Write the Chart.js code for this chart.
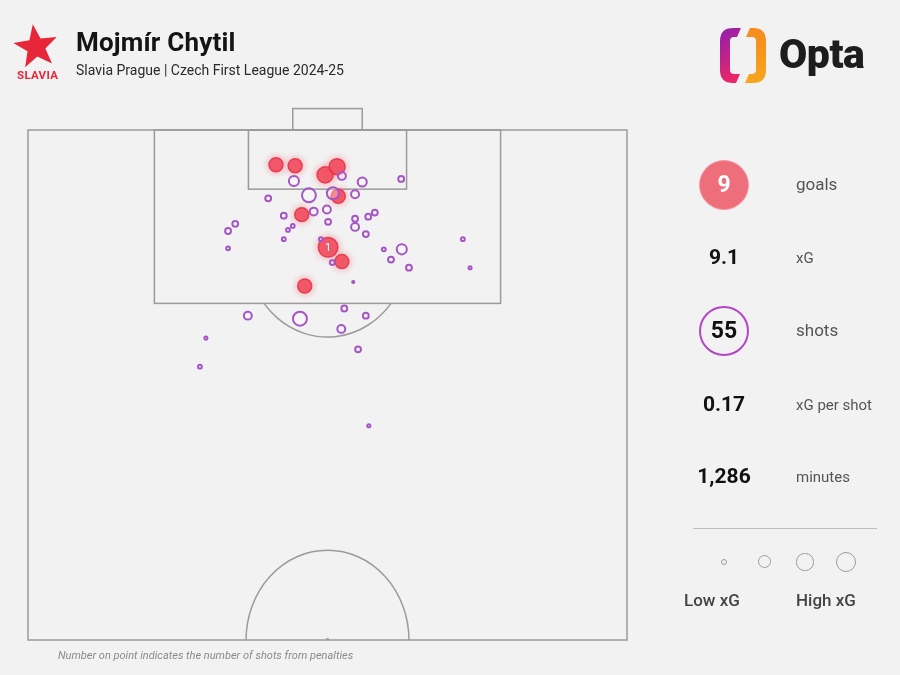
<!DOCTYPE html>
<html><head><meta charset="utf-8">
<script src="https://cdn.jsdelivr.net/npm/chart.js@4/dist/chart.umd.min.js"></script>
<style>
html,body{margin:0;padding:0;background:#f2f2f2;}
#wrap{position:relative;width:900px;height:675px;overflow:hidden;background:#f2f2f2;font-family:Roboto,"Noto Sans",sans-serif;}
#c{position:absolute;left:0;top:0;}
.t{position:absolute;white-space:nowrap;}
#title{left:76px;top:27px;font-size:26px;font-weight:700;color:#141414;letter-spacing:0.2px;}
#sub{left:76px;top:62px;font-size:14px;color:#2a2a2a;}
#slavia{left:17px;top:68px;font-size:11.5px;font-weight:700;color:#e8263a;letter-spacing:0.3px;}
#opta{left:779px;top:30px;font-size:41px;font-weight:900;color:#1d1d1d;letter-spacing:-0.5px;}
#foot{left:58px;top:649px;font-size:11px;font-style:italic;color:#8a8a8a;}
.val{position:absolute;width:80px;left:684px;text-align:center;font-weight:700;color:#111;}
.lab{position:absolute;left:796px;color:#555;}
#stats .badge{position:absolute;border-radius:50%;box-sizing:border-box;}
#divider{position:absolute;left:693px;top:528px;width:184px;height:1px;background:#bdbdbd;}
.lg{position:absolute;border:1.5px solid #9a9a9a;border-radius:50%;box-sizing:border-box;}
.lgt{position:absolute;top:590px;font-size:17px;font-weight:500;color:#444;}
</style></head>
<body><div id="wrap">
<canvas id="c" width="900" height="675"></canvas>
<svg width="900" height="100" style="position:absolute;left:0;top:0">
  <polygon id="star" fill="#e8263a" points=""></polygon>
  <defs>
    <linearGradient id="gl" x1="0" y1="0" x2="0.3" y2="1"><stop offset="0" stop-color="#8e1fb0"/><stop offset="1" stop-color="#e8266a"/></linearGradient>
    <linearGradient id="gr" x1="0" y1="0" x2="0" y2="1"><stop offset="0" stop-color="#f58b1f"/><stop offset="1" stop-color="#f7a51d"/></linearGradient>
  </defs>
  <path fill="url(#gl)" d="M741,28 L733,28 Q720,28 720,41 L720,70 Q720,83 733,83 L736,83 L740,74 L734,74 Q730,74 730,70 L730,41 Q730,37 734,37 L737,37 Z"/>
  <path fill="url(#gr)" d="M745,83 L753,83 Q766,83 766,70 L766,41 Q766,28 753,28 L750,28 L746,37 L752,37 Q756,37 756,41 L756,70 Q756,74 752,74 L749,74 Z"/>
</svg>
<div class="t" id="title"></div>
<div class="t" id="sub"></div>
<div class="t" id="slavia">SLAVIA</div>
<div class="t" id="opta">Opta</div>
<div id="stats"></div>
<div id="divider"></div>
<div id="legend"></div>
<div class="t" id="foot"></div>
</div>
<script>
// ---- text ----
const playerName = 'Mojmír Chytil';
const subtitle = 'Slavia Prague | Czech First League 2024-25';
const footnote = 'Number on point indicates the number of shots from penalties';

// ---- goals (Opta coords: width 0-100 across, length 50-100 toward goal) ----
const goalWidth  = [41.4, 44.6, 49.6, 51.6, 51.8, 45.7, 50.1, 52.4, 46.2];
const goalLength = [96.6, 96.5, 95.6, 96.4, 93.5, 91.7, 88.5, 87.1, 84.7];
const goalXG     = [0.40, 0.40, 0.53, 0.53, 0.40, 0.40, 0.79, 0.40, 0.40];
const goalPens   = [0, 0, 0, 0, 0, 0, 1, 0, 0];

// ---- non-goal shots ----
const shotWidth  = [44.4, 55.8, 62.3, 40.1, 46.9, 50.9, 54.6, 42.7, 47.7, 49.9, 52.4, 50.1, 54.6, 56.8, 57.9, 54.6, 56.4, 48.9, 59.4, 62.4, 60.6, 50.8, 63.6, 72.6, 73.8, 54.3, 34.6, 33.4, 33.4, 44.2, 43.4, 42.7, 36.7, 45.4, 52.8, 56.4, 52.3, 55.1, 29.7, 28.7, 56.9];
const shotLength = [95.0, 94.9, 95.2, 93.3, 93.6, 93.8, 93.7, 91.6, 92.0, 92.2, 95.5, 91.0, 91.3, 91.5, 91.9, 90.5, 89.8, 89.3, 88.3, 88.3, 87.3, 87.0, 86.5, 89.3, 86.5, 85.1, 90.8, 90.1, 88.4, 90.6, 90.2, 89.3, 81.8, 81.5, 82.5, 81.8, 80.5, 78.5, 79.6, 76.8, 71.0];
const shotXG     = [0.21, 0.17, 0.07, 0.07, 0.40, 0.30, 0.13, 0.07, 0.13, 0.13, 0.13, 0.07, 0.07, 0.07, 0.07, 0.13, 0.07, 0.03, 0.03, 0.21, 0.07, 0.05, 0.07, 0.03, 0.02, 0.01, 0.07, 0.07, 0.03, 0.03, 0.03, 0.03, 0.13, 0.40, 0.07, 0.07, 0.13, 0.07, 0.02, 0.03, 0.02];

// ---- summary stats ----
const statValues = ['9', '9.1', '55', '0.17', '1,286'];
const statLabels = ['goals', 'xG', 'shots', 'xG per shot', 'minutes'];
const legendXG   = [0.10, 0.35, 0.60, 0.83];
const legendLabels = ['Low xG', 'High xG'];

const rOf = xg => 11 * Math.sqrt(xg);

document.getElementById('title').textContent = playerName;
document.getElementById('sub').textContent = subtitle;
document.getElementById('foot').textContent = footnote;

// star logo
(function(){
  const cx=36, cy=47, R=23, r=9.5, rot=-8*Math.PI/180;
  const pts=[];
  for(let i=0;i<10;i++){
    const a = -Math.PI/2 + rot + i*Math.PI/5;
    const rr = i%2===0 ? R : r;
    pts.push((cx+rr*Math.cos(a)).toFixed(1)+','+(cy+rr*Math.sin(a)).toFixed(1));
  }
  document.getElementById('star').setAttribute('points', pts.join(' '));
})();

// stats panel
(function(){
  const st = document.getElementById('stats');
  const ys = [185, 258, 331, 405, 477];
  const vsz = [23, 21, 23, 21, 21];
  const lsz = [17, 15, 17, 15, 15];
  statValues.forEach((v,i)=>{
    if(i===0 || i===2){
      const b=document.createElement('div'); b.className='badge';
      b.style.left=(724-25)+'px'; b.style.top=(ys[i]-25)+'px'; b.style.width='50px'; b.style.height='50px';
      if(i===0){ b.style.background='#ee6e7c'; b.style.border='1.5px solid #f49aa3'; }
      else { b.style.border='2px solid #b444c8'; }
      st.appendChild(b);
    }
    const d=document.createElement('div'); d.className='val'; d.textContent=v;
    d.style.fontSize=vsz[i]+'px'; d.style.top=(ys[i]-vsz[i]*0.6)+'px';
    if(i===0) d.style.color='#fff';
    st.appendChild(d);
    const l=document.createElement('div'); l.className='lab'; l.textContent=statLabels[i];
    l.style.fontSize=lsz[i]+'px'; l.style.top=(ys[i]-lsz[i]*0.62)+'px';
    st.appendChild(l);
  });
  const lg=document.getElementById('legend');
  const lx=[724,765,805,846];
  legendXG.forEach((x,i)=>{
    const r=rOf(x); const e=document.createElement('div'); e.className='lg';
    e.style.left=(lx[i]-r)+'px'; e.style.top=(562-r)+'px'; e.style.width=(2*r)+'px'; e.style.height=(2*r)+'px';
    lg.appendChild(e);
  });
  const t1=document.createElement('div'); t1.className='lgt'; t1.textContent=legendLabels[0]; t1.style.left='684px'; lg.appendChild(t1);
  const t2=document.createElement('div'); t2.className='lgt'; t2.textContent=legendLabels[1]; t2.style.left='796px'; lg.appendChild(t2);
})();

// pitch plugin
const pitchPlugin = {
  id:'pitch',
  beforeDatasetsDraw(chart){
    const {ctx, scales:{x,y}} = chart;
    const X=v=>x.getPixelForValue(v), Y=v=>y.getPixelForValue(v);
    ctx.save();
    ctx.strokeStyle='#9b9b9b'; ctx.lineWidth=1.5;
    const rect=(w0,w1,l0,l1)=>{ctx.strokeRect(X(w0),Y(l1),X(w1)-X(w0),Y(l0)-Y(l1));};
    rect(0,100,50,100);
    rect(21.1,78.9,83,100);
    rect(36.8,63.2,94.2,100);
    rect(44.2,55.8,100,102.1);
    const rx = X(50+13.6)-X(50), ry = Y(50)-Y(50+8.8);
    const cyP = Y(88.5), boxY = Y(83);
    const t = Math.asin((boxY-cyP)/ry);
    ctx.beginPath(); ctx.ellipse(X(50), cyP, rx, ry, 0, t, Math.PI - t); ctx.stroke();
    ctx.beginPath(); ctx.ellipse(X(50), Y(50), rx, ry, 0, Math.PI, 2*Math.PI); ctx.stroke();
    ctx.fillStyle='#9b9b9b';
    ctx.beginPath(); ctx.arc(X(50), Y(50), 2, Math.PI, 2*Math.PI); ctx.fill();
    ctx.restore();
  },
  beforeDatasetDraw(chart,args){
    if(args.index===1){
      chart.ctx.save();
      chart.ctx.shadowColor='rgba(245,70,90,0.55)';
      chart.ctx.shadowBlur=7;
    }
  },
  afterDatasetDraw(chart,args){
    if(args.index===1) chart.ctx.restore();
  },
  afterDatasetsDraw(chart){
    const {ctx} = chart;
    const meta = chart.getDatasetMeta(1);
    ctx.save();
    ctx.fillStyle='#fff'; ctx.font='11px Roboto, sans-serif'; ctx.textAlign='center'; ctx.textBaseline='middle';
    meta.data.forEach((el,i)=>{ if(goalPens[i]>0) ctx.fillText(String(goalPens[i]), el.x, el.y+0.5); });
    ctx.restore();
  }
};

new Chart(document.getElementById('c'), {
  type:'scatter',
  data:{datasets:[
    {label:'Shots', data: shotWidth.map((w,i)=>({x:w,y:shotLength[i]})),
     pointRadius: shotXG.map(rOf), pointHoverRadius: shotXG.map(rOf),
     backgroundColor:'rgba(255,255,255,0.3)', borderColor:'#a655c6', borderWidth:2, clip:false},
    {label:'Goals', data: goalWidth.map((w,i)=>({x:w,y:goalLength[i]})),
     pointRadius: goalXG.map(rOf), pointHoverRadius: goalXG.map(rOf),
     backgroundColor:'rgba(240,62,82,0.78)', borderColor:'rgba(228,52,72,0.9)', borderWidth:1.5, clip:false}
  ]},
  options:{
    responsive:false, animation:false, devicePixelRatio:1,
    layout:{padding:{left:28,right:273,top:130,bottom:35}},
    scales:{
      x:{type:'linear',min:0,max:100,display:false},
      y:{type:'linear',min:50,max:100,display:false}
    },
    plugins:{legend:{display:false},tooltip:{enabled:false}}
  },
  plugins:[pitchPlugin]
});
</script>
</body></html>
